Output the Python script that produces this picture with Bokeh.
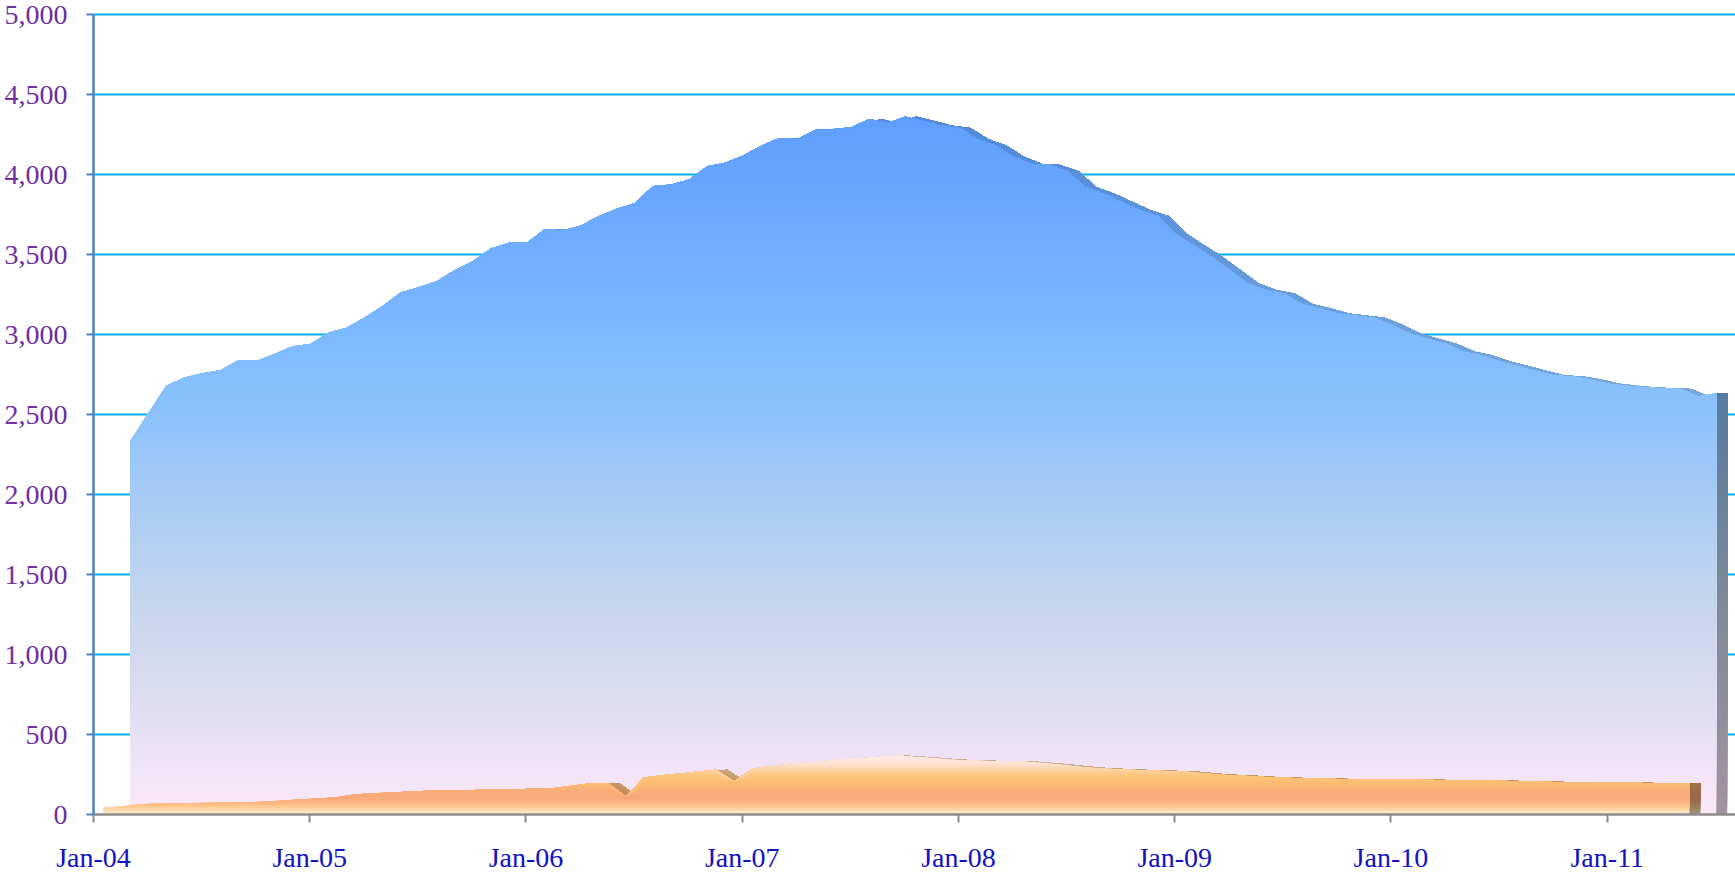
import numpy as np
from bokeh.plotting import figure
from bokeh.models import FixedTicker, NumeralTickFormatter, Range1d
from bokeh.embed import file_html
from bokeh.resources import INLINE

# ---------------- data ----------------
tick_labels = ["Jan-04", "Jan-05", "Jan-06", "Jan-07", "Jan-08", "Jan-09", "Jan-10", "Jan-11"]

# monthly values, Jan 2004 .. May 2011 (89 months)
blue_values = [2336, 2508, 2681, 2731, 2758, 2776, 2841, 2835, 2878, 2926,
               2941, 3013, 3042, 3107, 3178, 3262, 3296, 3333, 3402, 3458,
               3537, 3574, 3574, 3660, 3650, 3681, 3741, 3786, 3822, 3928,
               3938, 3969, 4052, 4073, 4118, 4180, 4228, 4221, 4280, 4284,
               4295, 4347, 4322, 4362, 4335, 4305, 4290, 4220, 4181, 4109,
               4065, 4059, 4020, 3921, 3880, 3828, 3776, 3741, 3630, 3557,
               3485, 3402, 3318, 3277, 3256, 3189, 3163, 3131, 3117, 3105,
               3060, 3005, 2972, 2940, 2892, 2869, 2830, 2801, 2772, 2743,
               2737, 2719, 2692, 2679, 2668, 2664, 2660, 2612, 2633]

orange_values = [42, 50, 64, 68, 70, 72, 73, 75, 76, 82,
                 88, 95, 100, 110, 127, 133, 138, 143, 148, 150,
                 152, 154, 156, 158, 162, 166, 180, 195, 197, 114,
                 232, 245, 257, 268, 280, 208, 286, 302, 315, 325,
                 335, 343, 352, 360, 367, 360, 352, 342, 337, 335,
                 333, 331, 322, 312, 300, 291, 285, 280, 275, 272,
                 268, 258, 249, 243, 237, 231, 228, 226, 224, 221,
                 220, 219, 218, 217, 215, 214, 213, 212, 210, 208,
                 205, 202, 200, 199, 198, 198, 196, 194, 193]

# ---------------- styling helpers ----------------
BLUE_STOPS = [(0, "#FBE9F9"), (300, "#F1E4F6"), (700, "#DEDDF1"), (1300, "#C6D6EE"),
              (1900, "#ABCDF4"), (2500, "#8DC2FC"), (2800, "#84BEFF"), (3300, "#76B3FF"),
              (3900, "#68A7FF"), (4400, "#5E9EFF"), (5000, "#5898FF")]
ORANGE_STOPS = [(0, "#FFF3EA"), (15, "#FEE6C4"), (40, "#FDD29A"), (70, "#FBB885"),
                (100, "#F9A97A"), (150, "#F9AE78"), (200, "#FBBE74"), (240, "#FCC57A"),
                (280, "#FDD3A8"), (320, "#FDE3D6"), (370, "#FEEEE8"), (500, "#FEF2EE")]


def _rgb(h):
    h = h.lstrip("#")
    return np.array([int(h[i:i + 2], 16) for i in (0, 2, 4)], dtype=float)


def color_at(stops, y, factor=1.0):
    ys = [s[0] for s in stops]
    cs = np.array([_rgb(s[1]) for s in stops])
    c = np.array([np.interp(y, ys, cs[:, k]) for k in range(3)]) * factor
    c = np.clip(c, 0, 255).astype(int)
    return "#%02x%02x%02x" % tuple(c)


def gradient_area(p, x, v, stops, band, top, factor=1.0):
    x = np.asarray(x, dtype=float)
    v = np.asarray(v, dtype=float)
    for lo in np.arange(0, top, band):
        if lo > v.max():
            break
        col = color_at(stops, lo + band / 2.0, factor)
        p.varea(x=x, y1=np.minimum(lo, v), y2=v, fill_color=col, fill_alpha=1.0)


# ---------------- figure ----------------
LEFT = 93
FRAME_W, FRAME_H = 1735 - LEFT, 814
PX_PER_MONTH = 18.02
TOP_PAD = 14  # pixels above the 5,000 line inside the frame
y_top = 5000 + TOP_PAD * 5000.0 / (FRAME_H - TOP_PAD)

p = figure(frame_width=FRAME_W, frame_height=FRAME_H, output_backend="svg", toolbar_location=None,
           x_range=Range1d(0, FRAME_W / PX_PER_MONTH), y_range=Range1d(0, y_top),
           min_border_left=LEFT, min_border_right=0, min_border_top=0, min_border_bottom=60,
           background_fill_color="white", border_fill_color="white")
p.outline_line_color = None
p.xgrid.grid_line_color = None
p.ygrid.grid_line_color = "#00B0F0"
p.ygrid.grid_line_width = 2.2
p.ygrid.ticker = FixedTicker(ticks=list(range(0, 5001, 500)))

months = np.arange(len(blue_values))
orange_x = months + 0.55
blue_x = months + 2.05
depth = 0.61

# blue series (back): top face, side face, front face
gradient_area(p, blue_x + depth, blue_values, BLUE_STOPS, 50, 5000, factor=0.87)
gradient_area(p, [blue_x[-1], blue_x[-1] + depth], [blue_values[-1]] * 2, BLUE_STOPS, 50, 5000, factor=0.64)
gradient_area(p, blue_x, blue_values, BLUE_STOPS, 50, 5000)

# orange series (front)
gradient_area(p, orange_x + depth, orange_values, ORANGE_STOPS, 8, 500, factor=0.80)
gradient_area(p, [orange_x[-1], orange_x[-1] + depth], [orange_values[-1]] * 2, ORANGE_STOPS, 8, 500, factor=0.62)
gradient_area(p, orange_x, orange_values, ORANGE_STOPS, 8, 500)

# axes
xa = p.xaxis[0]
xa.ticker = FixedTicker(ticks=[12 * i for i in range(len(tick_labels))])
xa.major_label_overrides = {12 * i: lab for i, lab in enumerate(tick_labels)}
xa.axis_line_color = "#8C8C8C"
xa.axis_line_width = 2.5
xa.major_tick_line_color = "#8C8C8C"
xa.major_tick_line_width = 2
xa.major_tick_out = 8
xa.major_tick_in = 0
xa.minor_tick_line_color = None
xa.major_label_text_color = "#1212C4"
xa.major_label_text_font = "Liberation Serif"
xa.major_label_text_font_size = "28px"
xa.major_label_standoff = 19

ya = p.yaxis[0]
ya.ticker = FixedTicker(ticks=list(range(0, 5001, 500)))
ya.formatter = NumeralTickFormatter(format="0,0")
ya.bounds = (0, 5000)
ya.axis_line_color = "#4F81BD"
ya.axis_line_width = 2.5
ya.major_tick_line_color = "#4F81BD"
ya.major_tick_line_width = 2
ya.major_tick_out = 7
ya.major_tick_in = 0
ya.minor_tick_line_color = None
ya.major_label_text_color = "#7030A0"
ya.major_label_text_font = "Liberation Serif"
ya.major_label_text_font_size = "28px"
ya.major_label_standoff = 19

open("out.html", "w").write(file_html(p, INLINE))
